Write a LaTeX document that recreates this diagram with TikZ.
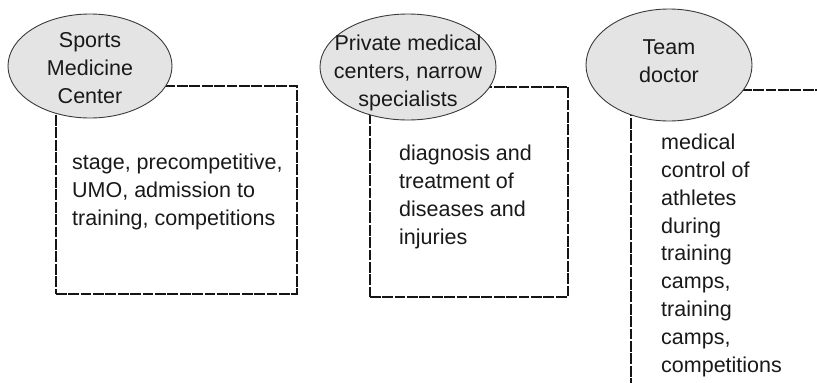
\documentclass[tikz,border=0pt]{standalone}
\usepackage{fontspec}
\setmainfont{Liberation Sans}
\usetikzlibrary{shapes.geometric}
\definecolor{ovalfill}{HTML}{E4E4E4}
\definecolor{inkgray}{HTML}{3A3A3A}
\definecolor{lineink}{HTML}{151515}
\begin{document}
\begin{tikzpicture}[x=1pt,y=-1pt,
  every node/.style={font=\fontsize{21.5}{27.8}\selectfont, text=black!90},
  dashbox/.style={draw=lineink, line width=1.5pt, dash pattern=on 10.8pt off 1.6pt, inner sep=0pt, anchor=north west},
  oval/.style={ellipse, draw=inkgray, line width=0.9pt, fill=ovalfill, inner sep=0pt},
  ovaltext/.style={align=center, inner sep=0pt},
  bodytext/.style={align=left, inner sep=0pt, anchor=north west}]
  \useasboundingbox (0,0) rectangle (817,383);
  \clip (0,0) rectangle (817,383);

  % dashed boxes, drawn first so the ovals cover their top-left corners
  \node[dashbox, minimum width=241pt, minimum height=208pt] (box1) at (55,85) {};
  \node[dashbox, minimum width=198pt, minimum height=210pt] (box2) at (369,86) {};
  \node[dashbox, minimum width=260pt, minimum height=320pt] (box3) at (630,89) {};

  % ovals with the provider names
  \node[oval, minimum width=164pt, minimum height=104pt] (oval1) at (90,66) {};
  \node[oval, minimum width=176pt, minimum height=106pt] (oval2) at (408,67) {};
  \node[oval, minimum width=166pt, minimum height=112pt] (oval3) at (669,65) {};
  \node[ovaltext] (name1) at (90,68) {Sports\\Medicine\\Center};
  \node[ovaltext] (name2) at (408,73) {Private medical\\centers, narrow\\specialists};
  \node[ovaltext] (name3) at (669,61) {Team\\doctor};

  % descriptions inside the boxes
  \node[bodytext] (text1) at (72,154) {stage, precompetitive,\\UMO, admission to\\training, competitions};
  \node[bodytext] (text2) at (399,145) {diagnosis and\\treatment of\\diseases and\\injuries};
  \node[bodytext] (text3) at (661,134) {medical\\control of\\athletes\\during\\training\\camps,\\training\\camps,\\competitions};
\end{tikzpicture}
\end{document}
